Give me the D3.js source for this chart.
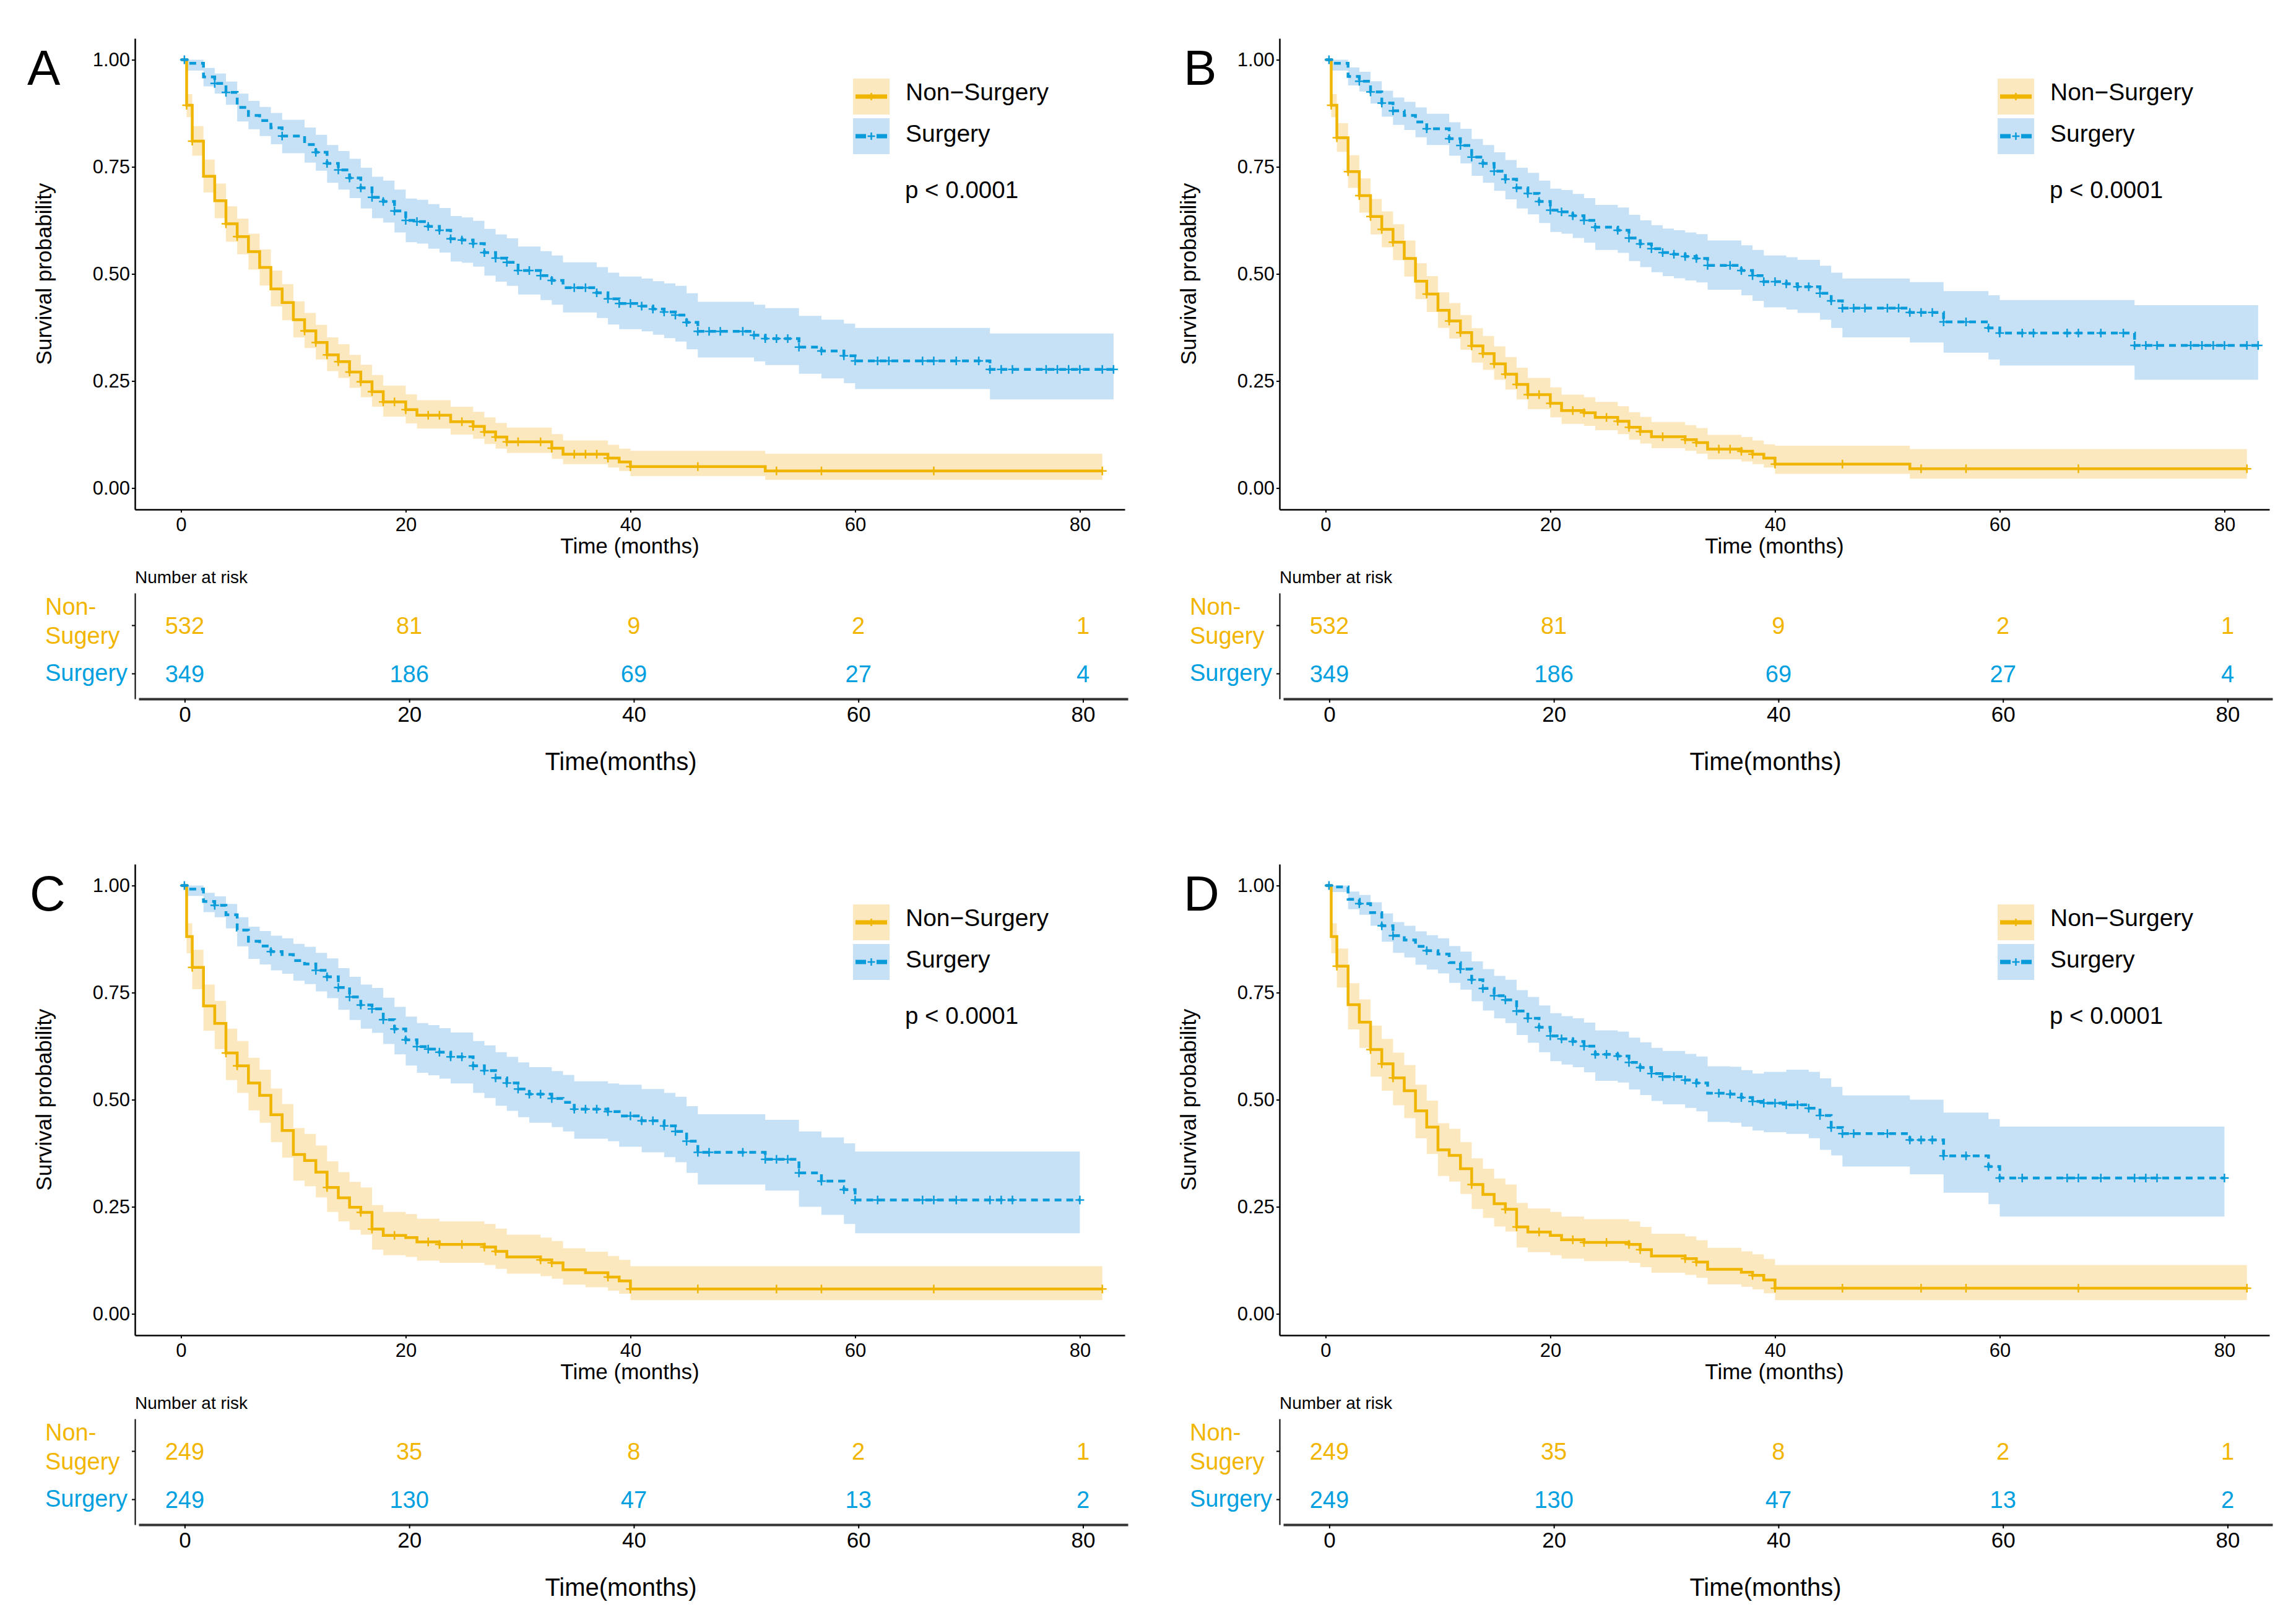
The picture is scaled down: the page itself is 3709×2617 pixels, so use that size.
<!DOCTYPE html>
<html>
<head>
<meta charset="utf-8">
<script src="https://cdn.jsdelivr.net/npm/d3@7"></script>
<style>
  body { margin: 0; background: #fff; }
  text { font-family: "Liberation Sans", Arial, sans-serif; }
</style>
</head>
<body>
<svg id="fig"></svg>
<script>
// step rows: [time, survival, lower, upper]
const nonA = [[0,1,1,1],[0.5,0.894,0.866,0.920],[1,0.810,0.776,0.845],[2,0.728,0.690,0.767],[3,0.671,0.630,0.711],
  [4,0.617,0.575,0.658],[5,0.587,0.546,0.629],[6,0.552,0.510,0.594],[7,0.515,0.473,0.557],[8,0.465,0.424,0.508],
  [9,0.433,0.392,0.476],[10,0.393,0.352,0.436],[11,0.367,0.327,0.409],[12,0.340,0.300,0.381],[13,0.311,0.273,0.352],
  [14,0.295,0.257,0.336],[15,0.271,0.234,0.311],[16,0.248,0.212,0.288],[17,0.225,0.190,0.264],[18,0.201,0.167,0.239],
  [20,0.183,0.151,0.219],[21,0.170,0.139,0.205],[24,0.155,0.125,0.190],[26,0.144,0.115,0.178],[27,0.131,0.103,0.165],
  [28,0.119,0.092,0.152],[29,0.108,0.082,0.141],[33,0.093,0.068,0.126],[34,0.079,0.056,0.111],[38,0.070,0.048,0.101],
  [39,0.061,0.040,0.092],[40,0.050,0.028,0.087],[52,0.040,0.019,0.080],[82,0.040,0.019,0.080]];
const surgA = [[0,1,1,1],[0.5,0.992,0.975,1],[2,0.960,0.938,0.981],[3,0.945,0.921,0.968],[4,0.924,0.895,0.949],
  [5,0.889,0.856,0.921],[6,0.870,0.838,0.904],[7,0.858,0.822,0.890],[8,0.841,0.803,0.876],[9,0.822,0.782,0.860],
  [11,0.802,0.760,0.842],[12,0.784,0.741,0.825],[13,0.758,0.713,0.801],[14,0.743,0.697,0.787],[15,0.724,0.677,0.769],
  [16,0.701,0.653,0.748],[17,0.679,0.630,0.727],[18,0.669,0.620,0.718],[19,0.647,0.597,0.697],[20,0.625,0.574,0.676],
  [21,0.622,0.571,0.673],[22,0.611,0.559,0.663],[23,0.602,0.550,0.654],[24,0.582,0.529,0.635],[25,0.579,0.526,0.632],
  [26,0.571,0.517,0.624],[27,0.550,0.496,0.605],[28,0.537,0.482,0.592],[29,0.527,0.472,0.583],[30,0.508,0.452,0.564],
  [32,0.496,0.439,0.553],[33,0.485,0.428,0.543],[34,0.468,0.410,0.527],[37,0.456,0.397,0.516],[38,0.442,0.382,0.503],
  [39,0.431,0.371,0.494],[41,0.425,0.366,0.489],[42,0.418,0.358,0.483],[43,0.411,0.350,0.478],[44,0.404,0.342,0.472],
  [45,0.387,0.324,0.455],[46,0.366,0.305,0.435],[51,0.357,0.296,0.428],[52,0.349,0.287,0.420],[55,0.329,0.267,0.402],
  [57,0.320,0.256,0.393],[59,0.309,0.245,0.384],[60,0.297,0.231,0.374],[72,0.277,0.207,0.361],[83,0.277,0.207,0.361]];

const nonB = [[0,1,1,1],[0.5,0.894,0.866,0.920],[1,0.818,0.785,0.852],[2,0.739,0.701,0.777],[3,0.683,0.643,0.723],
  [4,0.634,0.592,0.675],[5,0.604,0.562,0.646],[6,0.574,0.532,0.616],[7,0.536,0.494,0.578],[8,0.483,0.441,0.525],
  [9,0.453,0.411,0.495],[10,0.415,0.374,0.457],[11,0.390,0.349,0.432],[12,0.363,0.323,0.404],[13,0.332,0.293,0.373],
  [14,0.314,0.276,0.355],[15,0.290,0.253,0.331],[16,0.266,0.230,0.306],[17,0.242,0.207,0.281],[18,0.218,0.184,0.257],
  [20,0.198,0.165,0.235],[21,0.181,0.150,0.218],[23,0.176,0.145,0.212],[24,0.165,0.135,0.201],[26,0.156,0.126,0.191],
  [27,0.142,0.113,0.177],[28,0.132,0.104,0.166],[29,0.120,0.093,0.154],[32,0.113,0.087,0.147],[33,0.106,0.080,0.140],
  [34,0.091,0.067,0.124],[37,0.086,0.062,0.119],[38,0.079,0.056,0.111],[39,0.070,0.048,0.102],[40,0.056,0.033,0.099],
  [52,0.045,0.022,0.091],[82,0.045,0.022,0.091]];
const surgB = [[0,1,1,1],[0.5,0.992,0.975,1],[2,0.961,0.940,0.982],[3,0.950,0.926,0.972],[4,0.925,0.898,0.950],
  [5,0.899,0.867,0.928],[6,0.881,0.848,0.912],[7,0.870,0.836,0.902],[8,0.855,0.819,0.889],[9,0.839,0.801,0.874],
  [11,0.816,0.776,0.854],[12,0.800,0.758,0.839],[13,0.773,0.729,0.815],[14,0.758,0.713,0.801],[15,0.740,0.694,0.784],
  [16,0.721,0.674,0.766],[17,0.701,0.653,0.748],[18,0.688,0.639,0.736],[19,0.669,0.619,0.718],[20,0.649,0.598,0.699],
  [21,0.645,0.594,0.696],[22,0.636,0.584,0.687],[23,0.625,0.573,0.677],[24,0.609,0.556,0.661],[26,0.602,0.549,0.655],
  [27,0.584,0.530,0.638],[28,0.570,0.516,0.625],[29,0.559,0.504,0.614],[30,0.550,0.495,0.606],[31,0.546,0.490,0.602],
  [32,0.541,0.485,0.597],[33,0.536,0.480,0.593],[34,0.520,0.463,0.578],[37,0.508,0.450,0.567],[38,0.496,0.437,0.556],
  [39,0.482,0.422,0.543],[41,0.477,0.417,0.539],[42,0.470,0.409,0.533],[44,0.455,0.393,0.519],[45,0.437,0.374,0.503],
  [46,0.420,0.352,0.489],[52,0.410,0.340,0.481],[55,0.388,0.316,0.460],[59,0.374,0.300,0.450],[60,0.362,0.286,0.439],
  [72,0.333,0.253,0.427],[83,0.333,0.253,0.427]];

const nonC = [[0,1,1,1],[0.5,0.881,0.842,0.912],[1,0.809,0.758,0.850],[2,0.719,0.661,0.769],[3,0.678,0.618,0.731],
  [4,0.609,0.546,0.666],[5,0.579,0.516,0.637],[6,0.539,0.475,0.598],[7,0.510,0.446,0.570],[8,0.465,0.401,0.526],
  [9,0.428,0.365,0.490],[10,0.372,0.311,0.434],[11,0.358,0.298,0.420],[12,0.331,0.272,0.393],[13,0.295,0.238,0.356],
  [14,0.271,0.216,0.331],[15,0.249,0.196,0.308],[16,0.237,0.185,0.295],[17,0.198,0.150,0.254],[18,0.183,0.137,0.238],
  [20,0.178,0.133,0.233],[21,0.168,0.124,0.222],[23,0.162,0.119,0.216],[27,0.156,0.114,0.210],[28,0.146,0.105,0.199],
  [29,0.133,0.094,0.185],[32,0.126,0.088,0.178],[33,0.119,0.082,0.170],[34,0.103,0.068,0.153],[36,0.096,0.062,0.145],
  [38,0.086,0.054,0.135],[39,0.077,0.047,0.126],[40,0.058,0.032,0.111],[82,0.058,0.032,0.111]];
const surgC = [[0,1,1,1],[0.5,0.992,0.976,1],[2,0.963,0.938,0.983],[3,0.954,0.926,0.975],[4,0.932,0.900,0.957],
  [5,0.896,0.858,0.926],[6,0.870,0.829,0.904],[7,0.859,0.816,0.894],[8,0.846,0.802,0.883],[9,0.839,0.794,0.877],
  [10,0.825,0.778,0.864],[11,0.817,0.770,0.857],[12,0.802,0.753,0.843],[13,0.787,0.737,0.830],[14,0.762,0.710,0.807],
  [15,0.740,0.686,0.787],[16,0.721,0.666,0.769],[17,0.712,0.656,0.761],[18,0.687,0.630,0.738],[19,0.665,0.606,0.717],
  [20,0.640,0.580,0.694],[21,0.624,0.563,0.679],[22,0.618,0.557,0.674],[23,0.611,0.549,0.667],[24,0.600,0.538,0.657],
  [26,0.579,0.516,0.637],[27,0.568,0.504,0.627],[28,0.551,0.486,0.611],[29,0.539,0.474,0.600],[30,0.525,0.459,0.587],
  [31,0.513,0.446,0.576],[33,0.503,0.436,0.567],[34,0.494,0.426,0.558],[35,0.478,0.409,0.543],[38,0.472,0.403,0.538],
  [39,0.462,0.390,0.535],[41,0.451,0.377,0.525],[43,0.439,0.366,0.516],[44,0.426,0.354,0.507],[45,0.403,0.329,0.485],
  [46,0.377,0.302,0.466],[52,0.361,0.288,0.453],[55,0.329,0.250,0.426],[57,0.310,0.231,0.412],[59,0.290,0.210,0.398],
  [60,0.266,0.188,0.379],[80,0.266,0.188,0.379]];

const nonD = [[0,1,1,1],[0.5,0.881,0.842,0.912],[1,0.812,0.762,0.853],[2,0.722,0.664,0.772],[3,0.681,0.621,0.734],
  [4,0.617,0.554,0.673],[5,0.584,0.521,0.642],[6,0.551,0.487,0.610],[7,0.521,0.457,0.581],[8,0.474,0.410,0.535],
  [9,0.436,0.373,0.498],[10,0.383,0.322,0.445],[11,0.370,0.309,0.432],[12,0.339,0.280,0.401],[13,0.302,0.245,0.363],
  [14,0.279,0.224,0.339],[15,0.257,0.204,0.316],[16,0.244,0.192,0.302],[17,0.203,0.155,0.259],[18,0.191,0.144,0.246],
  [20,0.183,0.137,0.238],[21,0.173,0.129,0.227],[23,0.167,0.123,0.221],[27,0.162,0.119,0.216],[28,0.150,0.109,0.203],
  [29,0.135,0.096,0.187],[32,0.129,0.091,0.181],[33,0.121,0.084,0.172],[34,0.104,0.069,0.154],[37,0.097,0.063,0.146],
  [38,0.090,0.057,0.139],[39,0.079,0.048,0.128],[40,0.060,0.032,0.114],[82,0.060,0.032,0.114]];
const surgD = [[0,1,1,1],[0.5,0.997,0.985,1],[2,0.968,0.945,0.986],[3,0.958,0.932,0.978],[4,0.937,0.906,0.961],
  [5,0.906,0.869,0.935],[6,0.883,0.843,0.915],[7,0.873,0.832,0.906],[8,0.858,0.815,0.893],[9,0.848,0.804,0.884],
  [10,0.840,0.795,0.877],[11,0.820,0.773,0.859],[12,0.805,0.757,0.846],[13,0.780,0.730,0.823],[14,0.760,0.708,0.805],
  [15,0.743,0.690,0.789],[16,0.733,0.679,0.780],[17,0.707,0.651,0.756],[18,0.690,0.633,0.740],[19,0.669,0.611,0.720],
  [20,0.649,0.590,0.702],[21,0.642,0.582,0.695],[22,0.636,0.576,0.690],[23,0.625,0.564,0.680],[24,0.606,0.544,0.662],
  [26,0.602,0.540,0.659],[27,0.587,0.524,0.645],[28,0.575,0.511,0.634],[29,0.561,0.497,0.621],[30,0.554,0.489,0.614],
  [32,0.546,0.481,0.607],[33,0.539,0.473,0.601],[34,0.515,0.448,0.578],[36,0.513,0.446,0.577],[37,0.505,0.437,0.569],
  [38,0.496,0.428,0.561],[39,0.492,0.424,0.565],[41,0.488,0.420,0.570],[43,0.480,0.410,0.565],[44,0.463,0.383,0.550],
  [45,0.435,0.370,0.530],[46,0.421,0.344,0.510],[52,0.406,0.326,0.500],[55,0.369,0.283,0.470],[59,0.344,0.256,0.455],
  [60,0.317,0.227,0.437],[80,0.317,0.227,0.437]];

// censoring times
const censNonA = [0.5,1,4,5,11,12,13,14,15,16,17,18,19,20,22,23,25,26,27,28,29,30,32,33,35,36,37,38,40,46,53,57,67,82];
const censSurgA = [0.3,3,4,9,12,13,14,15,16,17,18,19,20,21,22,23,24,25,26,27,28,29,30,31,32,33,35,36,37,38,39,40,41,42,
  43,44,45,46,47,48,50,51,52,53,54,55,57,59,60,62,63,66,67,69,71,72,73,74,77,78,79,80,82,83];
const censNonB = [0.5,1,2,3,4,5,6,9,11,12,13,14,15,16,17,18,19,20,22,23,25,26,27,28,30,32,33,35,36,37,38,40,46,53,57,67,82];
const censSurgB = [0.3,3,4,5,6,9,11,12,13,14,15,16,17,18,19,20,21,22,23,24,26,27,28,29,30,31,32,33,34,36,37,38,39,40,41,
  42,43,44,45,46,47,48,50,51,52,53,54,55,57,59,60,62,63,66,67,69,71,72,73,74,77,78,79,80,82,83];
const censNonC = [1,4,5,13,16,17,19,22,23,25,27,28,32,33,38,40,46,53,57,67,82];
const censSurgC = [0.3,3,8,12,13,14,15,16,17,18,19,20,21,22,23,24,25,26,27,28,29,30,31,32,33,35,36,37,38,40,41,42,43,44,
  45,46,47,50,52,53,54,55,57,59,60,62,66,67,69,72,73,74,80];
const censNonD = [1,4,5,6,13,16,17,19,22,23,25,27,28,32,33,38,40,46,53,57,67,82];
const censSurgD = [0.3,3,5,6,9,12,13,14,15,16,17,18,19,20,21,22,23,24,25,26,27,28,29,30,31,32,33,35,36,37,38,39,40,41,
  42,43,44,45,46,47,50,52,53,54,55,57,59,60,62,66,67,69,72,73,74,80];

// number at risk
const riskTimes = [0, 20, 40, 60, 80];
const riskNonAB = [532, 81, 9, 2, 1];
const riskSurgAB = [349, 186, 69, 27, 4];
const riskNonCD = [249, 35, 8, 2, 1];
const riskSurgCD = [249, 130, 47, 13, 2];

const survTicks = [0, 0.25, 0.5, 0.75, 1];
const timeTicks = [0, 20, 40, 60, 80];
const groups = ["Non\u2212Surgery", "Surgery"];

const ORANGE = "#EFB500", BLUE = "#0A9BDA";
const ORANGE_FILL = "#FCE8BE", BLUE_FILL = "#C6E1F5";
const TXT_ORANGE = "#F2B500", TXT_BLUE = "#00A0E0";

const WIDTH = 3709, HEIGHT = 2617;
const svg = d3.select("#fig")
    .attr("width", WIDTH).attr("height", HEIGHT)
    .attr("viewBox", `0 0 ${WIDTH} ${HEIGHT}`);

const x = d3.scaleLinear().domain([-4.1, 84]).range([218, 1817]);
const y = d3.scaleLinear().domain([-0.05, 1.05]).range([823, 62]);
// risk table sits a few pixels to the right of the plot above
const xRisk = d3.scaleLinear().domain([-4.1, 84]).range([224, 1822]);
const yRisk = d3.scaleLinear().domain([0.474, 2.667]).range([1129, 958]);

const panels = [
    { label: "A", dx: 0, dy: 0, labelX: 44, non: nonA, surg: surgA, cn: censNonA, cs: censSurgA, rn: riskNonAB, rs: riskSurgAB },
    { label: "B", dx: 1849, dy: 0, labelX: 1912, non: nonB, surg: surgB, cn: censNonB, cs: censSurgB, rn: riskNonAB, rs: riskSurgAB },
    { label: "C", dx: 0, dy: 1334, labelX: 48, non: nonC, surg: surgC, cn: censNonC, cs: censSurgC, rn: riskNonCD, rs: riskSurgCD },
    { label: "D", dx: 1849, dy: 1334, labelX: 1912, non: nonD, surg: surgD, cn: censNonD, cs: censSurgD, rn: riskNonCD, rs: riskSurgCD }
];

function survAt(rows, t) {
    let v = rows[0][1];
    rows.forEach(r => { if (r[0] <= t) v = r[1]; });
    return v;
}

const band = d3.area().curve(d3.curveStepAfter)
    .x(d => x(d[0])).y0(d => y(d[2])).y1(d => y(d[3]));
const line = d3.line().curve(d3.curveStepAfter)
    .x(d => x(d[0])).y(d => y(d[1]));
const plus = "M-7,0H7M0,-7V7";

function styleAxis(g, fs, w) {
    g.select(".domain").attr("stroke", "#000").attr("stroke-width", w);
    g.selectAll(".tick line").attr("stroke", "#000").attr("stroke-width", 2);
    g.selectAll(".tick text").attr("fill", "#000").style("font-size", fs + "px")
        .style("font-family", '"Liberation Sans", Arial, sans-serif');
}

panels.forEach(function (p) {
    const g = svg.append("g").attr("transform", `translate(${p.dx},${p.dy})`);

    // bands
    g.append("path").datum(p.non).attr("d", band).attr("fill", ORANGE_FILL);
    g.append("path").datum(p.surg).attr("d", band).attr("fill", BLUE_FILL);

    // curves
    g.append("path").datum(p.non).attr("d", line)
        .attr("fill", "none").attr("stroke", ORANGE).attr("stroke-width", 4.5);
    g.append("path").datum(p.surg).attr("d", line)
        .attr("fill", "none").attr("stroke", BLUE).attr("stroke-width", 4.5)
        .attr("stroke-dasharray", "11,8");

    // censor marks
    g.selectAll("path.cn").data(p.cn).enter().append("path")
        .attr("class", "cn").attr("d", plus)
        .attr("transform", t => `translate(${x(t)},${y(survAt(p.non, t))})`)
        .attr("stroke", ORANGE).attr("stroke-width", 2.5).attr("fill", "none");
    g.selectAll("path.cs").data(p.cs).enter().append("path")
        .attr("class", "cs").attr("d", plus)
        .attr("transform", t => `translate(${x(t)},${y(survAt(p.surg, t))})`)
        .attr("stroke", BLUE).attr("stroke-width", 2.5).attr("fill", "none");

    // axes
    const ya = g.append("g").attr("transform", `translate(${x.range()[0]},0)`)
        .call(d3.axisLeft(y).tickValues(survTicks).tickFormat(d3.format(".2f"))
            .tickSize(5).tickPadding(3).tickSizeOuter(0));
    styleAxis(ya, 31, 2.5);
    const xa = g.append("g").attr("transform", `translate(0,${y.range()[0]})`)
        .call(d3.axisBottom(x).tickValues(timeTicks).tickSize(5).tickPadding(8).tickSizeOuter(0));
    styleAxis(xa, 31, 2.5);

    g.append("text").attr("x", (x.range()[0] + x.range()[1]) / 2).attr("y", 894)
        .attr("text-anchor", "middle").style("font-size", "35px").text("Time (months)");
    g.append("text").attr("transform", `translate(83,${(y(0) + y(1)) / 2}) rotate(-90)`)
        .attr("text-anchor", "middle").style("font-size", "35px").text("Survival probability");

    // panel letter
    svg.append("text").attr("x", p.labelX).attr("y", 137 + p.dy)
        .style("font-size", "80px").text(p.label);

    // legend
    const leg = g.append("g").attr("transform", "translate(1378,127)");
    groups.forEach(function (name, i) {
        const row = leg.append("g").attr("transform", `translate(0,${i * 64})`);
        row.append("rect").attr("width", 59).attr("height", 58)
            .attr("fill", i === 0 ? ORANGE_FILL : BLUE_FILL);
        row.append("line").attr("x1", 4).attr("x2", 55).attr("y1", 29).attr("y2", 29)
            .attr("stroke", i === 0 ? ORANGE : BLUE).attr("stroke-width", 7)
            .attr("stroke-dasharray", i === 0 ? null : "17,17");
        row.append("path").attr("d", "M-6,0H6M0,-6V6")
            .attr("transform", "translate(29.5,29)")
            .attr("stroke", i === 0 ? ORANGE : BLUE).attr("stroke-width", 2.5);
        row.append("text").attr("x", 85).attr("y", i === 0 ? 35 : 38)
            .style("font-size", "39px").text(name);
    });
    g.append("text").attr("x", 1462).attr("y", 320)
        .style("font-size", "38.5px").text("p < 0.0001");

    // risk table
    g.append("text").attr("x", 218).attr("y", 942)
        .style("font-size", "28px").text("Number at risk");

    const ra = g.append("g").attr("transform", `translate(${x.range()[0]},0)`)
        .call(d3.axisLeft(yRisk).tickValues([1, 2]).tickFormat("").tickSize(5).tickSizeOuter(0));
    styleAxis(ra, 10, 2);
    const rb = g.append("g").attr("transform", `translate(0,${yRisk.range()[0]})`)
        .call(d3.axisBottom(xRisk).tickValues(timeTicks).tickSize(6).tickPadding(6).tickSizeOuter(0));
    styleAxis(rb, 35, 4);
    rb.select(".domain").attr("stroke", "#333");

    g.selectAll("text.rn").data(p.rn).enter().append("text")
        .attr("class", "rn").attr("x", (d, i) => xRisk(riskTimes[i])).attr("y", yRisk(2) + 14)
        .attr("text-anchor", "middle").attr("fill", TXT_ORANGE).style("font-size", "38px").text(d => d);
    g.selectAll("text.rs").data(p.rs).enter().append("text")
        .attr("class", "rs").attr("x", (d, i) => xRisk(riskTimes[i])).attr("y", yRisk(1) + 14)
        .attr("text-anchor", "middle").attr("fill", TXT_BLUE).style("font-size", "38px").text(d => d);

    g.append("text").attr("x", 73).attr("y", 993).attr("fill", TXT_ORANGE)
        .style("font-size", "38px").text("Non-");
    g.append("text").attr("x", 73).attr("y", 1040).attr("fill", TXT_ORANGE)
        .style("font-size", "38px").text("Sugery");
    g.append("text").attr("x", 73).attr("y", 1100).attr("fill", TXT_BLUE)
        .style("font-size", "38px").text("Surgery");

    g.append("text").attr("x", 1003).attr("y", 1244)
        .attr("text-anchor", "middle").style("font-size", "40px").text("Time(months)");
});
</script>
</body>
</html>
